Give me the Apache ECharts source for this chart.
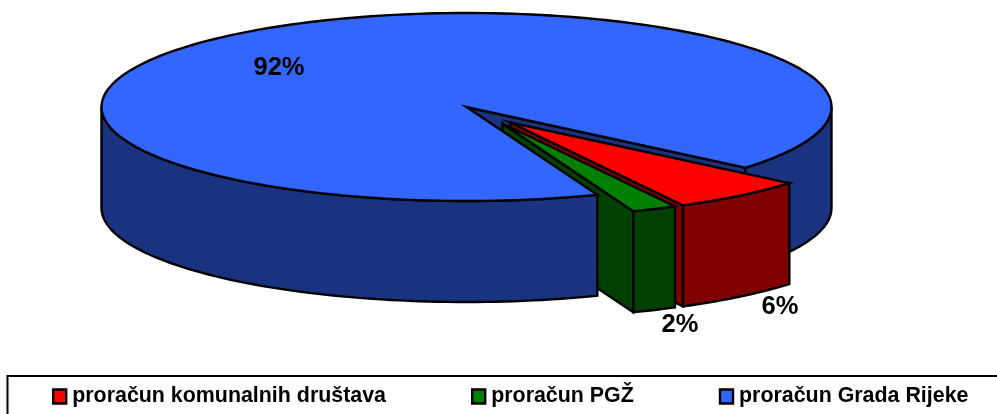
<!DOCTYPE html>
<html>
<head>
<meta charset="utf-8">
<style>
  html, body { margin: 0; padding: 0; background: #fff; }
  #main { width: 997px; height: 414px; }
</style>
<script src="https://cdn.jsdelivr.net/npm/echarts@6/dist/echarts.min.js"></script>
</head>
<body>
<div id="main"></div>
<script>
var categories = ['proračun komunalnih društava', 'proračun PGŽ', 'proračun Grada Rijeke'];
var shares = [6, 2, 92];
var shareLabels = ['6%', '2%', '92%'];

var topColors = ['#FF0000', '#008000', '#3366FF'];
var sideColors = ['#800000', '#004000', '#1A3380'];
// where each slice's apex sits after the explode, and where its label goes
var apexes = [[510.5, 122.5], [502.5, 123.5], [466.5, 107]];
var labelSpots = [[780, 307], [680, 325], [279, 68]];

var RX = 365, RY = 94, DEPTH = 101;
var START_ANGLE = 40.2;
var total = shares.reduce(function (a, b) { return a + b; }, 0);

function rad(d) { return d * Math.PI / 180; }

function arc(c, a0, a1, dy) {
    var pts = [];
    var n = Math.max(2, Math.ceil((a1 - a0) / 1.5));
    for (var i = 0; i <= n; i++) {
        var a = rad(a0 + (a1 - a0) * i / n);
        pts.push([c[0] + RX * Math.cos(a), c[1] + dy + RY * Math.sin(a)]);
    }
    return pts;
}

function poly(points, fill, z2) {
    return {
        type: 'polygon',
        z2: z2,
        shape: { points: points },
        style: { fill: fill, stroke: '#000', lineWidth: 2.4, lineJoin: 'miter', miterLimit: 12 }
    };
}

function cutFace(c, a, fill, z2) {
    var p = arc(c, a, a, 0)[0];
    return poly([c, p, [p[0], p[1] + DEPTH], [c[0], c[1] + DEPTH]], fill, z2);
}

function wall(c, a0, a1, fill, z2) {
    return poly(arc(c, a0, a1, 0).concat(arc(c, a0, a1, DEPTH).reverse()), fill, z2);
}

// idx 2 (the big slice) is cut up so the small slices can sit between its back and front parts
function makeRenderItem(idx, layer) {
    return function (params, api) {
        var before = 0;
        for (var i = 0; i < idx; i++) before += shares[i];
        var a0 = START_ANGLE + before / total * 360;
        var a1 = a0 + api.value(0) / total * 360;
        var c = apexes[idx], side = sideColors[idx], top = topColors[idx];
        var kids = [];

        if (Math.cos(rad(a1)) > 0) kids.push(cutFace(c, a1, side, idx === 2 ? 1 : layer));
        if (Math.cos(rad(a0)) < 0) kids.push(cutFace(c, a0, side, layer));

        [[0, 180], [360, 540]].forEach(function (r) {
            var from = Math.max(a0, r[0]), to = Math.min(a1, r[1]);
            if (from < to) kids.push(wall(c, from, to, side, idx === 2 && r[0] === 360 ? 1 : layer));
        });

        kids.push(poly([c].concat(arc(c, a0, a1, 0)), top, layer + 1));
        kids.push({
            type: 'text',
            z2: 30,
            style: {
                x: labelSpots[idx][0],
                y: labelSpots[idx][1],
                text: shareLabels[idx],
                fill: '#000',
                font: 'bold 25.5px "Liberation Sans", Arial, sans-serif',
                align: 'center',
                verticalAlign: 'middle'
            }
        });
        return { type: 'group', children: kids };
    };
}

var layers = [3, 6, 10];
var series = categories.map(function (name, i) {
    return {
        type: 'custom',
        name: name,
        coordinateSystem: 'none',
        silent: true,
        animation: false,
        itemStyle: { color: topColors[i] },
        renderItem: makeRenderItem(i, layers[i]),
        data: [[shares[i]]]
    };
});

var myChart = echarts.init(document.getElementById('main'), null, { renderer: 'canvas' });
var option = {
    animation: false,
    legend: {
        left: 47,
        top: 381,
        padding: 5,
        width: 960,
        data: categories,
        selectedMode: false,
        icon: 'rect',
        itemWidth: 13,
        itemHeight: 14,
        itemGap: 85,
        itemStyle: { borderColor: '#000', borderWidth: 2.4 },
        textStyle: {
            color: '#000',
            fontFamily: '"Liberation Sans", Arial, sans-serif',
            fontWeight: 'bold',
            fontSize: 21.4,
            padding: [2, 0, 0, 1]
        }
    },
    graphic: [{
        type: 'rect',
        silent: true,
        shape: { x: 7.5, y: 376, width: 1010, height: 60 },
        style: { fill: 'none', stroke: '#000', lineWidth: 2 }
    }],
    series: series
};
myChart.setOption(option);
</script>
</body>
</html>
